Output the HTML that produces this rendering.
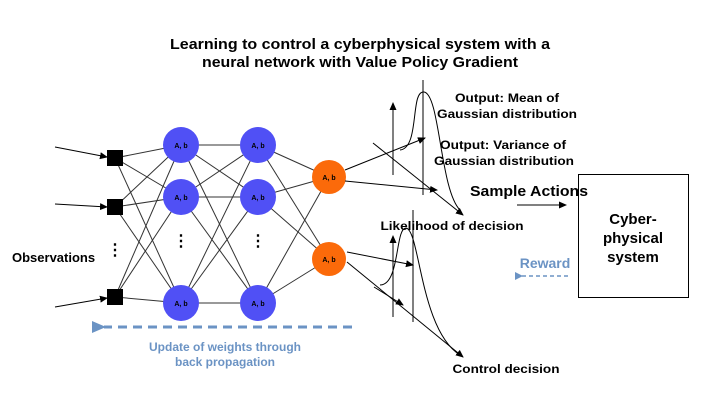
<!DOCTYPE html>
<html><head><meta charset="utf-8"><style>
html,body{margin:0;padding:0;background:#fff}
svg{display:block;font-family:"Liberation Sans",Arial,sans-serif}
</style></head><body>
<svg width="710" height="406" viewBox="0 0 710 406" xmlns="http://www.w3.org/2000/svg">
<defs>
<marker id="ah" markerWidth="8" markerHeight="8" refX="7" refY="4" orient="auto" markerUnits="userSpaceOnUse"><path d="M0,0.5 L8,4 L0,7.5 z" fill="#000"/></marker>
<marker id="bh" markerWidth="14" markerHeight="12" refX="2" refY="6" orient="auto" markerUnits="userSpaceOnUse"><path d="M14,0 L0,6 L14,12 z" fill="#6b93c4"/></marker>
<marker id="bh2" markerWidth="8" markerHeight="8" refX="1" refY="4" orient="auto" markerUnits="userSpaceOnUse"><path d="M8,0 L0,4 L8,8 z" fill="#6b93c4"/></marker>
</defs>
<g font-weight="bold" font-size="15" text-anchor="middle" fill="#000">
<text x="360" y="49" textLength="380" lengthAdjust="spacingAndGlyphs">Learning to control a cyberphysical system with a</text>
<text x="360" y="67" textLength="316" lengthAdjust="spacingAndGlyphs">neural network with Value Policy Gradient</text>
</g>
<g stroke="#000" stroke-width="1" fill="none">
<line x1="55" y1="147" x2="107" y2="157" marker-end="url(#ah)"/>
<line x1="55" y1="204" x2="107" y2="207" marker-end="url(#ah)"/>
<line x1="55" y1="307" x2="107" y2="298" marker-end="url(#ah)"/>
</g>
<g stroke="#333" stroke-width="1">
<line x1="115" y1="158" x2="181" y2="145"/><line x1="115" y1="158" x2="181" y2="197"/><line x1="115" y1="158" x2="181" y2="303"/>
<line x1="115" y1="207" x2="181" y2="145"/><line x1="115" y1="207" x2="181" y2="197"/><line x1="115" y1="207" x2="181" y2="303"/>
<line x1="115" y1="297" x2="181" y2="145"/><line x1="115" y1="297" x2="181" y2="197"/><line x1="115" y1="297" x2="181" y2="303"/>
<line x1="181" y1="145" x2="258" y2="145"/><line x1="181" y1="145" x2="258" y2="197"/><line x1="181" y1="145" x2="258" y2="303"/>
<line x1="181" y1="197" x2="258" y2="145"/><line x1="181" y1="197" x2="258" y2="197"/><line x1="181" y1="197" x2="258" y2="303"/>
<line x1="181" y1="303" x2="258" y2="145"/><line x1="181" y1="303" x2="258" y2="197"/><line x1="181" y1="303" x2="258" y2="303"/>
<line x1="258" y1="145" x2="329" y2="177"/><line x1="258" y1="145" x2="329" y2="259"/>
<line x1="258" y1="197" x2="329" y2="177"/><line x1="258" y1="197" x2="329" y2="259"/>
<line x1="258" y1="303" x2="329" y2="177"/><line x1="258" y1="303" x2="329" y2="259"/>
</g>
<g fill="#000">
<rect x="107" y="150" width="16" height="16"/><rect x="107" y="199" width="16" height="16"/><rect x="107" y="289" width="16" height="16"/>
</g>
<g fill="#5050f5">
<circle cx="181" cy="145" r="18"/><circle cx="181" cy="197" r="18"/><circle cx="181" cy="303" r="18"/>
<circle cx="258" cy="145" r="18"/><circle cx="258" cy="197" r="18"/><circle cx="258" cy="303" r="18"/>
</g>
<g fill="#fb6a0a"><circle cx="329" cy="177" r="17"/><circle cx="329" cy="259" r="17"/></g>
<g font-size="7" font-weight="bold" text-anchor="middle" fill="#000">
<text x="181" y="148">A, b</text><text x="181" y="200">A, b</text><text x="181" y="306">A, b</text>
<text x="258" y="148">A, b</text><text x="258" y="200">A, b</text><text x="258" y="306">A, b</text>
<text x="329" y="180">A, b</text><text x="329" y="262">A, b</text>
</g>
<g font-size="16" font-weight="bold" text-anchor="middle">
<text x="115" y="255">⋮</text><text x="181" y="246">⋮</text><text x="258" y="246">⋮</text>
</g>
<text x="12" y="262" font-size="13" font-weight="bold">Observations</text>
<g stroke="#000" stroke-width="1" fill="none">
<line x1="423" y1="80" x2="423" y2="195"/>
<line x1="393" y1="175" x2="393" y2="103" marker-end="url(#ah)"/>
<path d="M400,150 C420,148 410,90 424,92 C440,94 440,190 460,210"/>
<line x1="345" y1="170" x2="425" y2="138" marker-end="url(#ah)"/>
<line x1="345" y1="181" x2="437" y2="190" marker-end="url(#ah)"/>
<line x1="373" y1="143" x2="463" y2="215" marker-end="url(#ah)"/>
<line x1="413" y1="210" x2="413" y2="322"/>
<line x1="393" y1="317" x2="393" y2="236" marker-end="url(#ah)"/>
<path d="M380,285 C400,285 395,228 406,228 C420,230 420,330 460,355"/>
<line x1="347" y1="252" x2="413" y2="265" marker-end="url(#ah)"/>
<line x1="374" y1="287" x2="403" y2="305" marker-end="url(#ah)"/>
<line x1="347" y1="262" x2="463" y2="357" marker-end="url(#ah)"/>
<line x1="517" y1="205" x2="566" y2="205" marker-end="url(#ah)"/>
</g>
<g font-size="12" font-weight="bold" text-anchor="middle" fill="#000">
<text x="507" y="102" textLength="104" lengthAdjust="spacingAndGlyphs">Output: Mean of</text>
<text x="507" y="118" textLength="140" lengthAdjust="spacingAndGlyphs">Gaussian distribution</text>
<text x="503" y="149" textLength="126" lengthAdjust="spacingAndGlyphs">Output: Variance of</text>
<text x="504" y="165" textLength="140" lengthAdjust="spacingAndGlyphs">Gaussian distribution</text>
<text x="452" y="230" textLength="143" lengthAdjust="spacingAndGlyphs">Likelihood of decision</text>
<text x="506" y="373" textLength="107" lengthAdjust="spacingAndGlyphs">Control decision</text>
</g>
<text x="529" y="196" font-size="15" font-weight="bold" text-anchor="middle" textLength="118" lengthAdjust="spacingAndGlyphs">Sample Actions</text>
<rect x="578.5" y="174.5" width="110" height="123" fill="none" stroke="#000"/>
<g font-size="15" font-weight="bold" text-anchor="middle">
<text x="633" y="224">Cyber-</text><text x="633" y="243">physical</text><text x="633" y="262">system</text>
</g>
<text x="545" y="268" font-size="14" font-weight="bold" text-anchor="middle" fill="#6b93c4">Reward</text>
<line x1="568" y1="276" x2="522" y2="276" stroke="#6b93c4" stroke-width="1.5" stroke-dasharray="4,3" marker-end="url(#bh2)"/>
<line x1="352" y1="327" x2="104" y2="327" stroke="#6b93c4" stroke-width="3" stroke-dasharray="9,6" marker-end="url(#bh)"/>
<g font-size="12" font-weight="bold" text-anchor="middle" fill="#6b93c4">
<text x="225" y="351">Update of weights through</text>
<text x="225" y="366">back propagation</text>
</g>
</svg>
</body></html>
